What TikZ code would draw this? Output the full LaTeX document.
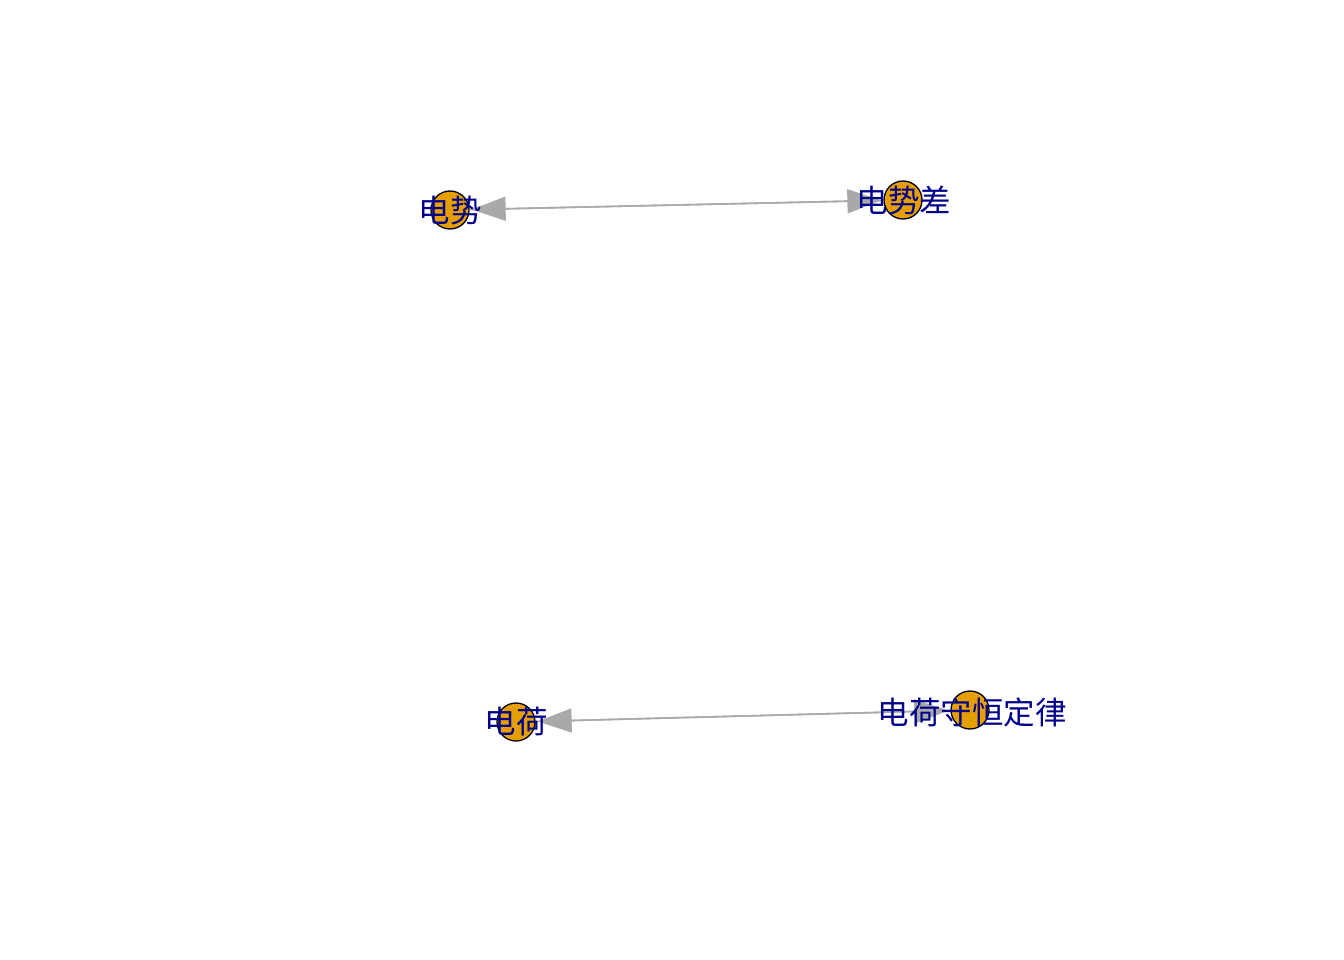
\documentclass[tikz,border=0pt]{standalone}
\usepackage{fontspec}
\newfontfamily\cjk{Noto Sans CJK SC}
\usetikzlibrary{arrows.meta}
\definecolor{vfill}{HTML}{E69F00}
\definecolor{lblue}{HTML}{00008B}
\definecolor{egray}{HTML}{A9A9A9}
\tikzset{
  vert/.style={circle, draw=black, line width=1.3pt, fill=vfill, minimum size=38pt, inner sep=0pt},
  lbl/.style={font=\cjk\fontsize{31.5}{31.5}\selectfont, text=lblue, inner sep=0pt},
  edge/.style={draw=egray, line width=1.6pt, shorten >=2pt, -{Triangle[length=34pt,width=24pt]}}
}
\begin{document}
\begin{tikzpicture}[x=1pt,y=-1pt]
\path[use as bounding box, fill=white] (0,0) rectangle (1344,960);
\node[vert] (a) at (450,210) {};
\node[vert] (b) at (903,200) {};
\node[vert] (c) at (516,722) {};
\node[vert] (d) at (970,710) {};
\draw[edge] (b) -- (a);
\draw[edge] (a) -- (b);
\draw[edge] (d) -- (c);
\draw[edge] (c) -- (d);
\node[lbl] (la) at (450,211) {电势};
\node[lbl] (lb) at (904,201) {电势差};
\node[lbl] (lc) at (516,722) {电荷};
\node[lbl] (ld) at (972,712) {电荷守恒定律};
\end{tikzpicture}
\end{document}
